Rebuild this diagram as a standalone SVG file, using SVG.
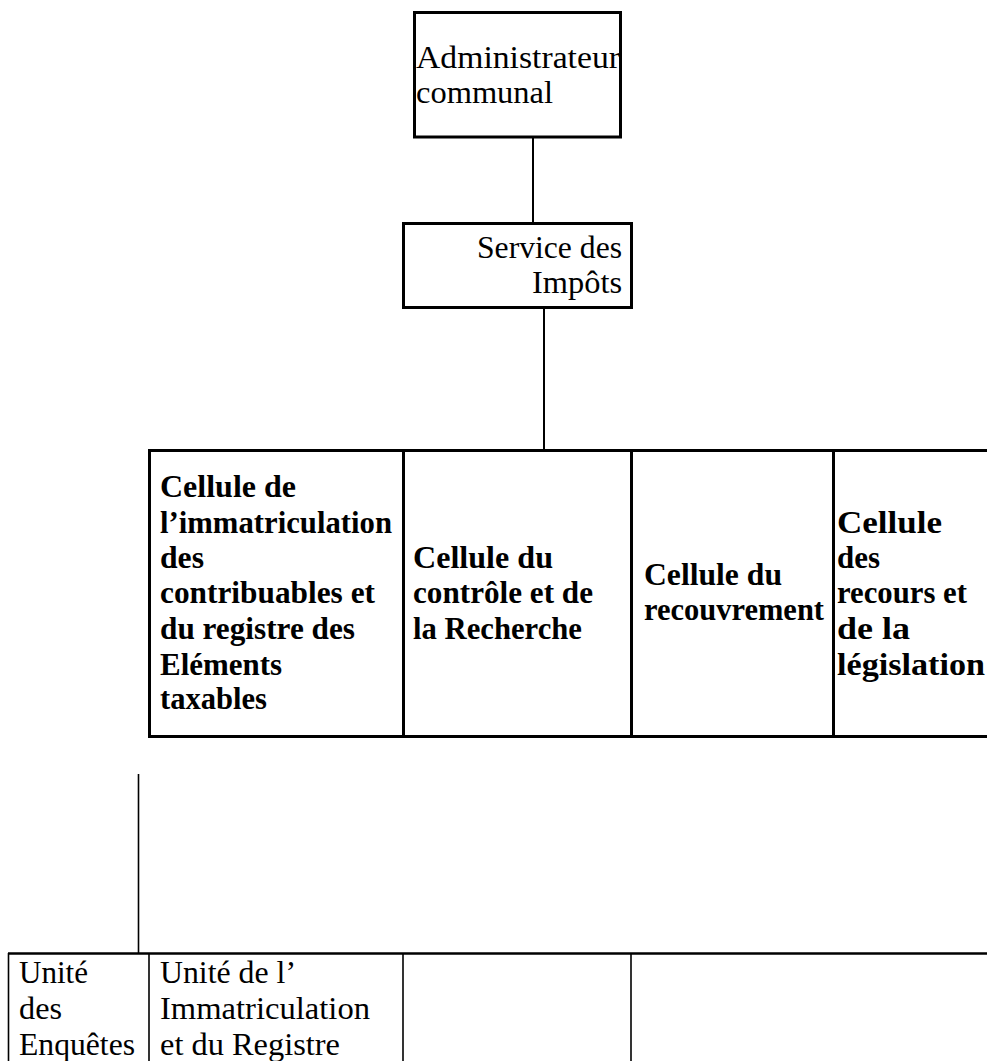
<svg xmlns="http://www.w3.org/2000/svg" width="987" height="1061" viewBox="0 0 987 1061">
<style>
.box{fill:#fff;stroke:#000;stroke-width:3}
.thin{fill:none;stroke:#000;stroke-width:1.6}
.conn{fill:none;stroke:#000;stroke-width:2}
.r{font-family:"Liberation Serif","Times New Roman",serif;font-size:32px;fill:#000}
.b{font-family:"Liberation Serif","Times New Roman",serif;font-size:31px;font-weight:bold;fill:#000}
</style>
<rect x="0" y="0" width="987" height="1061" fill="#fff"/>
<g id="connectors">
<line class="conn" x1="533" y1="137" x2="533" y2="223.5"/>
<line class="conn" x1="544" y1="307.5" x2="544" y2="450.5"/>
<line class="thin" x1="138.5" y1="774" x2="138.5" y2="953"/>
</g>
<g id="admin">
<rect class="box" x="414.5" y="12.5" width="206" height="124.5"/>
<text class="r" x="416" y="68" textLength="204" lengthAdjust="spacingAndGlyphs">Administrateur</text>
<text class="r" x="416" y="103" textLength="137" lengthAdjust="spacingAndGlyphs">communal</text>
</g>
<g id="service">
<rect class="box" x="403.5" y="223.5" width="228" height="84"/>
<text class="r" x="622" y="258" text-anchor="end" textLength="145" lengthAdjust="spacingAndGlyphs">Service des</text>
<text class="r" x="622" y="293" text-anchor="end" textLength="90" lengthAdjust="spacingAndGlyphs">Impôts</text>
</g>
<g id="cells">
<rect class="box" x="149.5" y="450.5" width="860" height="286"/>
<line class="box" x1="403.5" y1="450.5" x2="403.5" y2="736.5"/>
<line class="box" x1="631.5" y1="450.5" x2="631.5" y2="736.5"/>
<line class="box" x1="833.5" y1="450.5" x2="833.5" y2="736.5"/>
<g id="cell-immatriculation">
<text class="b" x="160" y="497" textLength="136" lengthAdjust="spacingAndGlyphs">Cellule de</text>
<text class="b" x="160" y="533" textLength="232" lengthAdjust="spacingAndGlyphs">l’immatriculation</text>
<text class="b" x="160" y="568" textLength="44" lengthAdjust="spacingAndGlyphs">des</text>
<text class="b" x="160" y="603" textLength="215" lengthAdjust="spacingAndGlyphs">contribuables et</text>
<text class="b" x="160" y="639" textLength="195" lengthAdjust="spacingAndGlyphs">du registre des</text>
<text class="b" x="160" y="675" textLength="122" lengthAdjust="spacingAndGlyphs">Eléments</text>
<text class="b" x="160" y="709" textLength="107" lengthAdjust="spacingAndGlyphs">taxables</text>
</g>
<g id="cell-controle">
<text class="b" x="413" y="568" textLength="140" lengthAdjust="spacingAndGlyphs">Cellule du</text>
<text class="b" x="413" y="603" textLength="180" lengthAdjust="spacingAndGlyphs">contrôle et de</text>
<text class="b" x="413" y="639" textLength="169" lengthAdjust="spacingAndGlyphs">la Recherche</text>
</g>
<g id="cell-recouvrement">
<text class="b" x="644" y="585" textLength="138" lengthAdjust="spacingAndGlyphs">Cellule du</text>
<text class="b" x="644" y="620" textLength="180" lengthAdjust="spacingAndGlyphs">recouvrement</text>
</g>
<g id="cell-recours">
<text class="b" x="837" y="533" textLength="105" lengthAdjust="spacingAndGlyphs">Cellule</text>
<text class="b" x="837" y="568" textLength="43" lengthAdjust="spacingAndGlyphs">des</text>
<text class="b" x="837" y="603" textLength="130" lengthAdjust="spacingAndGlyphs">recours et</text>
<text class="b" x="837" y="639" textLength="73" lengthAdjust="spacingAndGlyphs">de la</text>
<text class="b" x="837" y="675" textLength="148" lengthAdjust="spacingAndGlyphs">législation</text>
</g>
</g>
<g id="units">
<line x1="8" y1="953.5" x2="1000" y2="953.5" stroke="#000" stroke-width="2.5"/>
<line class="thin" x1="8.5" y1="953" x2="8.5" y2="1070"/>
<line class="thin" x1="149" y1="953" x2="149" y2="1070"/>
<line class="thin" x1="403" y1="953" x2="403" y2="1070"/>
<line class="thin" x1="631" y1="953" x2="631" y2="1070"/>
<g id="unit-enquetes">
<text class="r" x="19" y="983" textLength="69" lengthAdjust="spacingAndGlyphs">Unité</text>
<text class="r" x="19" y="1019" textLength="43" lengthAdjust="spacingAndGlyphs">des</text>
<text class="r" x="19" y="1055" textLength="116" lengthAdjust="spacingAndGlyphs">Enquêtes</text>
</g>
<g id="unit-immatriculation">
<text class="r" x="160" y="983" textLength="136" lengthAdjust="spacingAndGlyphs">Unité de l’</text>
<text class="r" x="160" y="1019" textLength="210" lengthAdjust="spacingAndGlyphs">Immatriculation</text>
<text class="r" x="160" y="1055" textLength="180" lengthAdjust="spacingAndGlyphs">et du Registre</text>
</g>
</g>
</svg>
